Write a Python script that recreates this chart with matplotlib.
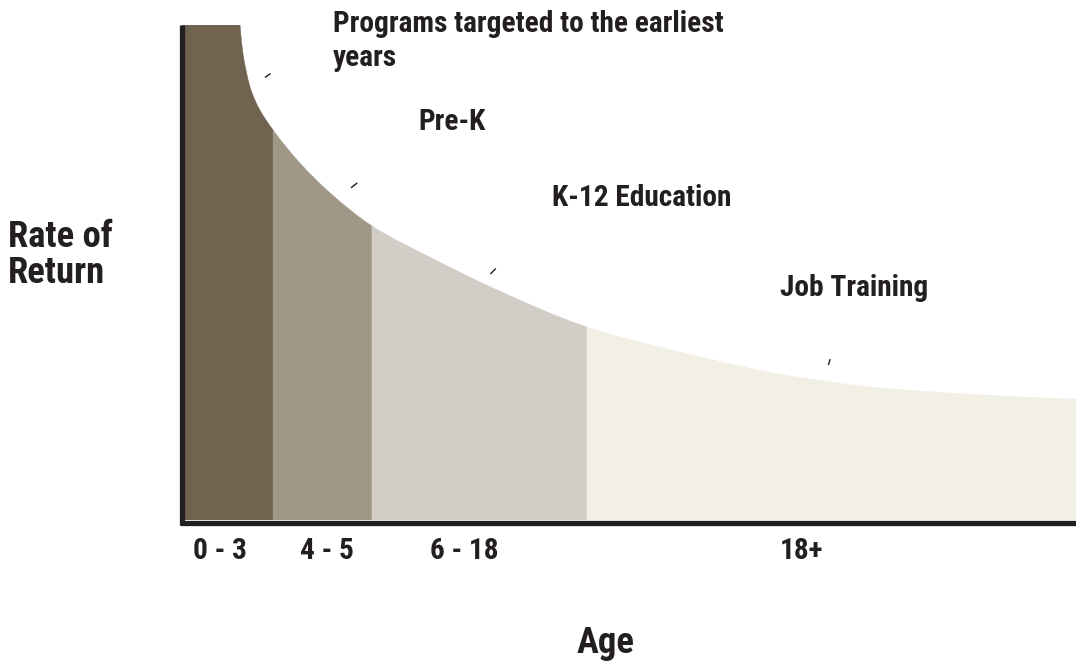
import matplotlib
matplotlib.use("Agg")
import matplotlib.pyplot as plt
from matplotlib import font_manager as fm
from matplotlib.path import Path
from matplotlib.patches import PathPatch
import numpy as np

# ---- data (x and y in percent of plot extent) ----
segment_labels = ["0 - 3", "4 - 5", "6 - 18", "18+"]
program_labels = ["Programs targeted to the earliest", "years", "Pre-K", "K-12 Education", "Job Training"]
segment_bounds = [0.0, 10.18, 21.25, 45.30, 100.0]
segment_colors = ["#706350", "#a19786", "#d2cdc6", "#f2efe4"]

top_value = 100.0
curve_x = [6.49, 6.82, 7.16, 7.61, 8.17, 8.72, 10.18, 13.2, 16.55, 21.25,
           27.74, 35.23, 45.30, 56.26, 67.45, 78.08, 91.50, 100.0]
curve_y = [100.0, 94.3, 90.9, 87.5, 84.8, 82.8, 78.8, 72.1, 66.1, 59.4,
           53.1, 46.5, 39.0, 33.7, 29.3, 26.7, 25.1, 24.4]

# small pointer marks near the curve (x0, y0, x1, y1)
pointers = [(9.28, 89.4, 9.91, 90.2),
            (18.9, 67.1, 19.6, 68.1),
            (34.5, 49.7, 35.1, 50.8),
            (72.3, 31.3, 72.5, 32.5)]

# ---- font ----
names = {f.name for f in fm.fontManager.ttflist if f.weight in (700, "bold")}
fam = "Liberation Sans"
for cand in ["Roboto Condensed", "Liberation Sans Narrow", "Nimbus Sans Narrow", "Arial Narrow",
             "Barlow Semi Condensed", "Asap Condensed", "Barlow Condensed"]:
    if cand in names:
        fam = cand
        break
plt.rcParams["font.family"] = [fam, "DejaVu Sans"]
plt.rcParams["font.weight"] = "bold"

W, H = 1076, 664
fig = plt.figure(figsize=(W / 100, H / 100), dpi=100)
ax = fig.add_axes([182 / W, 1 - 520 / H, (1076 - 182) / W, (520 - 25) / H])
ax.set_xlim(0, 100)
ax.set_ylim(0, 100)
ax.axis("off")

# monotone (PCHIP) slopes for a smooth curve through the read points
x = np.array(curve_x); y = np.array(curve_y)
h = np.diff(x); d = np.diff(y) / h
m = np.zeros_like(x)
for k in range(1, len(x) - 1):
    if d[k - 1] * d[k] <= 0:
        m[k] = 0
    else:
        w1 = 2 * h[k] + h[k - 1]; w2 = h[k] + 2 * h[k - 1]
        m[k] = (w1 + w2) / (w1 / d[k - 1] + w2 / d[k])
def endslope(h0, h1, d0, d1):
    s = ((2 * h0 + h1) * d0 - h0 * d1) / (h0 + h1)
    if np.sign(s) != np.sign(d0):
        return 0.0
    if np.sign(d0) != np.sign(d1) and abs(s) > abs(3 * d0):
        return 3 * d0
    return s
m[0] = endslope(h[0], h[1], d[0], d[1])
m[-1] = endslope(h[-1], h[-2], d[-1], d[-2])

def seg_path(lo, hi):
    verts = [(lo, 0)]
    codes = [Path.MOVETO]
    idx = [i for i in range(len(x)) if lo - 1e-9 <= x[i] <= hi + 1e-9]
    if lo < x[0]:
        verts += [(lo, top_value), (x[0], top_value)]
        codes += [Path.LINETO, Path.LINETO]
    else:
        verts.append((x[idx[0]], y[idx[0]])); codes.append(Path.LINETO)
    for a, b in zip(idx[:-1], idx[1:]):
        hh = x[b] - x[a]
        verts += [(x[a] + hh / 3, y[a] + m[a] * hh / 3),
                  (x[b] - hh / 3, y[b] - m[b] * hh / 3),
                  (x[b], y[b])]
        codes += [Path.CURVE4] * 3
    verts += [(hi, 0), (lo, 0)]
    codes += [Path.LINETO, Path.CLOSEPOLY]
    return Path(verts, codes)

for i in range(4):
    p = seg_path(segment_bounds[i], segment_bounds[i + 1])
    ax.add_patch(PathPatch(p, facecolor=segment_colors[i], edgecolor=segment_colors[i], lw=0.3))

for x0, y0, x1, y1 in pointers:
    ax.plot([x0, x1], [y0, y1], color="#231f20", lw=1.0, solid_capstyle="butt")

# axis lines
ax.plot([0, 0], [-1.0, 100], color="#231f20", lw=3.8, clip_on=False, solid_capstyle="butt")
ax.plot([-0.25, 100], [-0.6, -0.6], color="#231f20", lw=3.8, clip_on=False, solid_capstyle="butt")

# ---- text sizing: fit reference widths ----
renderer = fig.canvas.get_renderer()
def fit_size(s, target_px, base=20):
    t = fig.text(0, 0, s, fontsize=base, fontweight="bold")
    w = t.get_window_extent(renderer).width
    t.remove()
    return base * target_px / w

small = fit_size("K-12 Education", 180)
large = fit_size("Rate of", 105)

tc = "#231f20"
def ft(px, py, s, size, ha="left"):
    fig.text(px / W, 1 - py / H, s, fontsize=size, ha=ha, va="baseline", color=tc,
             fontweight="bold")

ft(333, 32, program_labels[0], small)
ft(333, 66, program_labels[1], small)
ft(418, 130, program_labels[2], small)
ft(552, 206, program_labels[3], small)
ft(780, 296, program_labels[4], small)

ft(8, 247, "Rate of", large)
ft(8, 283, "Return", large)

ft(193, 559, segment_labels[0], small)
ft(300, 559, segment_labels[1], small)
ft(430, 559, segment_labels[2], small)
ft(780, 559, segment_labels[3], small)

ft(606, 653, "Age", large, ha="center")

fig.savefig("out.png", dpi=100)
